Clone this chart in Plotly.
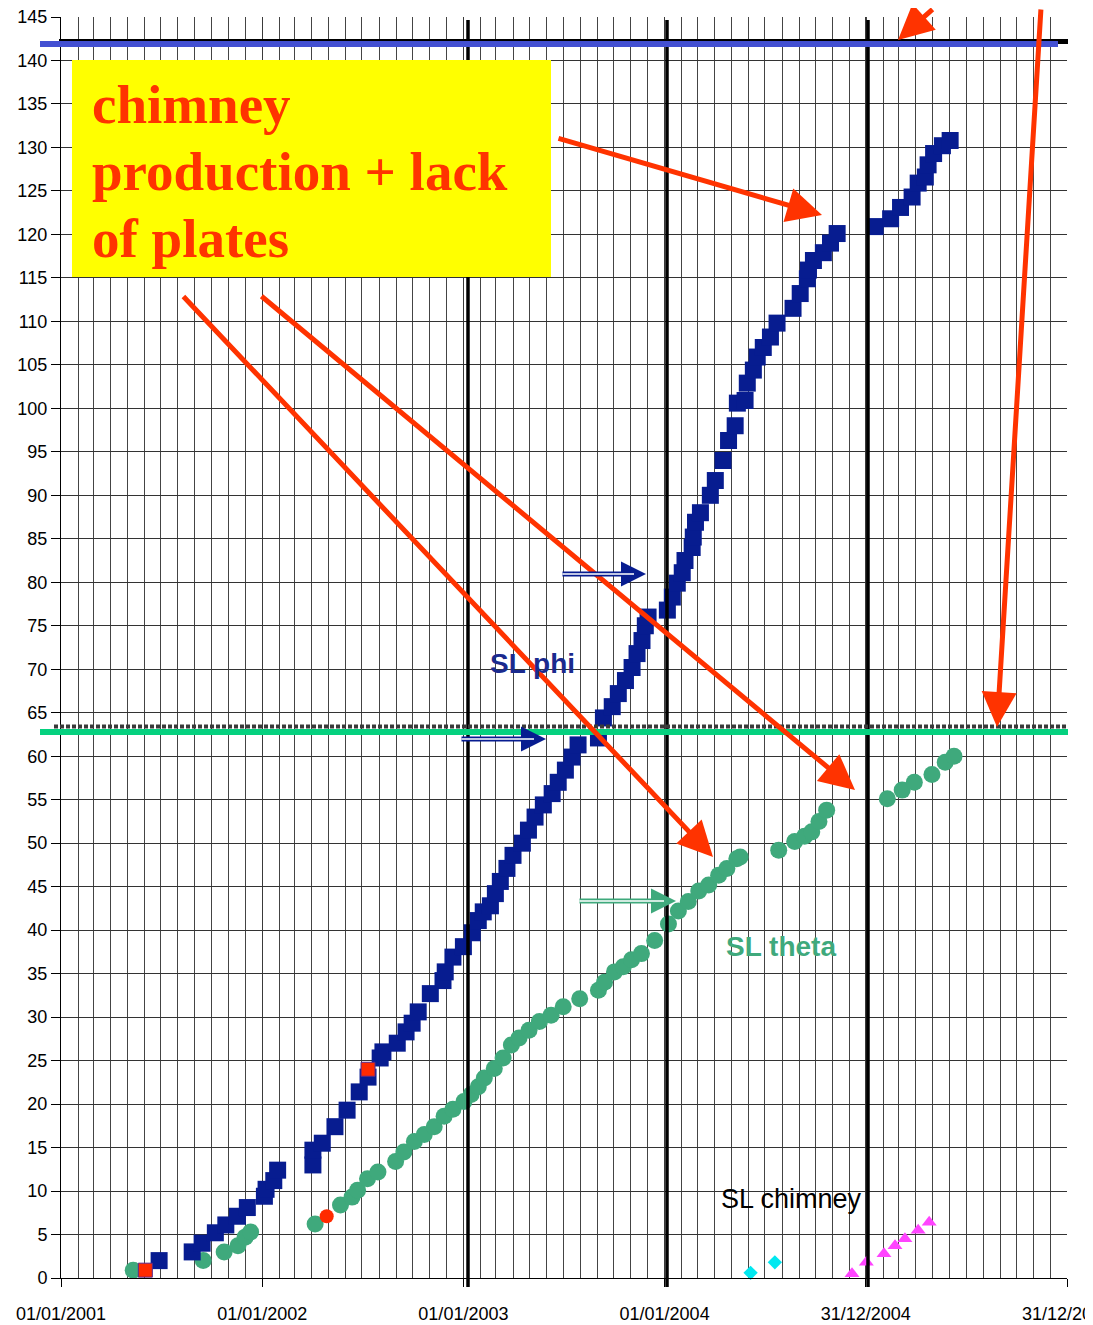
import plotly.graph_objects as go

# ---------------- data ----------------
phi_dates = [
    "2001-06-28", "2001-08-27", "2001-09-14", "2001-10-08", "2001-10-27", "2001-11-17", "2001-12-05",
    "2002-01-05", "2002-01-08", "2002-01-22", "2002-01-29",
    "2002-04-03", "2002-04-03", "2002-04-20", "2002-05-13", "2002-06-04", "2002-06-26", "2002-07-12",
    "2002-08-03", "2002-08-08", "2002-09-03", "2002-09-19", "2002-09-30", "2002-10-11", "2002-11-02",
    "2002-11-25", "2002-11-29", "2002-12-13", "2003-01-01", "2003-01-17", "2003-01-28", "2003-02-06",
    "2003-02-19", "2003-02-28", "2003-03-09", "2003-03-21", "2003-04-01", "2003-04-18", "2003-04-29",
    "2003-05-11", "2003-05-26", "2003-06-11", "2003-06-22", "2003-07-05", "2003-07-17", "2003-07-28",
    "2003-09-03", "2003-09-12", "2003-09-28", "2003-10-09", "2003-10-22", "2003-11-03", "2003-11-12",
    "2003-11-21", "2003-11-27", "2003-12-02", "2004-01-06", "2004-01-15", "2004-01-24", "2004-02-02",
    "2004-02-07", "2004-02-20", "2004-02-22", "2004-02-26", "2004-03-06", "2004-03-24", "2004-04-02",
    "2004-04-16", "2004-04-26", "2004-05-08", "2004-05-12", "2004-05-26", "2004-05-30", "2004-06-10",
    "2004-06-17", "2004-06-28", "2004-07-11", "2004-07-23", "2004-08-21", "2004-09-03", "2004-09-16",
    "2004-09-18", "2004-09-27", "2004-10-15", "2004-10-28", "2004-11-09",
    "2005-01-17", "2005-02-14", "2005-03-04", "2005-03-25", "2005-04-05", "2005-04-18", "2005-04-23",
    "2005-05-03", "2005-05-19", "2005-06-02",
]
phi_vals = [
    2.0, 3.0, 4.0, 5.2, 6.1, 7.1, 8.1,
    9.4, 10.2, 11.2, 12.4,
    13.0, 14.7, 15.5, 17.4, 19.3, 21.4, 23.1,
    25.3, 26.0, 27.0, 28.3, 29.3, 30.6, 32.7,
    34.2, 35.2, 36.9, 38.1, 39.7, 41.1, 42.1,
    42.8, 44.2, 45.6, 47.1, 48.6, 50.0, 51.5,
    53.0, 54.4, 55.7, 57.0, 58.4, 59.9, 61.3,
    62.1, 64.4, 65.7, 67.2, 68.7, 70.2, 71.8,
    73.3, 75.0, 76.0, 76.8, 78.3, 79.9, 81.1,
    82.5, 84.0, 85.2, 86.9, 88.0, 90.0, 91.7,
    94.0, 96.3, 98.0, 100.6, 100.9, 102.9, 104.4,
    105.9, 107.0, 108.2, 109.8, 111.5, 113.2, 114.9,
    115.9, 117.0, 117.9, 119.0, 120.1,
    120.9, 121.8, 123.1, 124.3, 125.9, 126.6, 128.0,
    129.3, 130.2, 130.8,
]

theta_dates = [
    "2001-05-12", "2001-09-16", "2001-10-24", "2001-11-18", "2001-12-01", "2001-12-11",
    "2002-04-07", "2002-05-23", "2002-06-13", "2002-06-23", "2002-07-11", "2002-07-30",
    "2002-08-31", "2002-09-15", "2002-10-04", "2002-10-22", "2002-11-09", "2002-11-27",
    "2002-12-13", "2003-01-02", "2003-01-15", "2003-01-28", "2003-02-08", "2003-02-26",
    "2003-03-14", "2003-03-29", "2003-04-12", "2003-04-30", "2003-05-19", "2003-06-09",
    "2003-07-01", "2003-07-31", "2003-09-03", "2003-09-14", "2003-10-02", "2003-10-18",
    "2003-11-02", "2003-11-20", "2003-12-14", "2004-01-08", "2004-01-26", "2004-02-13",
    "2004-03-03", "2004-03-21", "2004-04-08", "2004-04-23", "2004-05-11", "2004-05-17",
    "2004-07-26", "2004-08-24", "2004-09-11", "2004-09-24", "2004-10-07", "2004-10-21",
    "2005-02-08", "2005-03-07", "2005-03-29", "2005-04-30", "2005-05-24", "2005-06-09",
]
theta_vals = [
    0.9, 2.0, 3.0, 3.7, 4.7, 5.3,
    6.2, 8.4, 9.3, 10.1, 11.4, 12.2,
    13.4, 14.5, 15.7, 16.5, 17.4, 18.6,
    19.4, 20.3, 21.1, 22.0, 23.0, 24.1,
    25.3, 26.8, 27.6, 28.5, 29.5, 30.2,
    31.2, 32.1, 33.1, 34.0, 35.2, 35.8,
    36.6, 37.3, 38.8, 40.7, 42.2, 43.3,
    44.5, 45.2, 46.3, 47.1, 48.2, 48.4,
    49.2, 50.2, 50.8, 51.3, 52.5, 53.8,
    55.1, 56.1, 57.0, 57.9, 59.3, 60.0,
]

red_sq_dates = ["2001-06-03", "2002-07-12"]
red_sq_vals = [0.9, 24.0]
red_dot_dates = ["2002-04-28"]
red_dot_vals = [7.1]

cyan_dates = ["2004-06-05", "2004-07-19"]
cyan_vals = [0.6, 1.8]

chimney_dates = ["2004-12-06", "2005-01-01", "2005-02-02", "2005-02-22", "2005-03-12", "2005-04-05", "2005-04-25"]
chimney_vals = [0.5, 1.8, 2.8, 3.7, 4.5, 5.5, 6.4]

tick_dates = ["2001-01-01", "2002-01-01", "2003-01-01", "2004-01-01", "2004-12-31", "2005-12-31"]
tick_text = ["01/01/2001", "01/01/2002", "01/01/2003", "01/01/2004", "31/12/2004", "31/12/2005"]

# ---------------- styles ----------------
NAVY = "#071C90"
GREEN = "#3FA97C"
RED = "#FF3300"
OFF = 8                      # page body margin of the browser
W, H = 1093 - OFF, 1325 - OFF
# plot area in screen (reference) pixels
SL, SR, ST, SB = 61, 1067, 17, 1278
L, R, T, B = SL - OFF, SR - OFF, ST - OFF, SB - OFF


def px(x):
    return (x - SL) / (SR - SL)


def py(y):
    return (SB - y) / (SB - ST)


fig = go.Figure()
fig.add_trace(go.Scatter(x=theta_dates, y=theta_vals, mode="markers", cliponaxis=False,
                         marker=dict(symbol="circle", size=17, color=GREEN)))
fig.add_trace(go.Scatter(x=phi_dates, y=phi_vals, mode="markers", cliponaxis=False,
                         marker=dict(symbol="square", size=17, color=NAVY)))
fig.add_trace(go.Scatter(x=red_sq_dates, y=red_sq_vals, mode="markers", cliponaxis=False,
                         marker=dict(symbol="square", size=14, color="#FF2A00",
                                     line=dict(color="#5a2a8a", width=1))))
fig.add_trace(go.Scatter(x=red_dot_dates, y=red_dot_vals, mode="markers", cliponaxis=False,
                         marker=dict(symbol="circle", size=14, color="#FF2A00")))
fig.add_trace(go.Scatter(x=cyan_dates, y=cyan_vals, mode="markers", cliponaxis=False,
                         marker=dict(symbol="diamond", size=11, color="#00E8F0")))
fig.add_trace(go.Scatter(x=chimney_dates, y=chimney_vals, mode="markers", cliponaxis=False,
                         marker=dict(symbol="triangle-up", size=13, color="#FF44FF")))

shapes = []
# thick vertical marker lines
for xv in (468, 667, 868):
    shapes.append(dict(type="line", xref="paper", yref="paper", x0=px(xv), x1=px(xv),
                       y0=py(20), y1=py(1287), line=dict(color="black", width=3.5), layer="above"))
# top horizontal lines
shapes.append(dict(type="line", xref="paper", yref="paper", x0=px(59), x1=px(1068),
                   y0=py(41.5), y1=py(41.5), line=dict(color="black", width=5), layer="above"))
shapes.append(dict(type="line", xref="paper", yref="paper", x0=px(40), x1=px(1058),
                   y0=py(44), y1=py(44), line=dict(color="#4350D2", width=6), layer="above"))
# dotted line and green line around 63
shapes.append(dict(type="line", xref="paper", yref="paper", x0=px(54), x1=px(1068),
                   y0=py(726.5), y1=py(726.5), line=dict(color="#3a3a3a", width=4, dash="4px,2px"),
                   layer="above"))
shapes.append(dict(type="line", xref="paper", yref="paper", x0=px(40), x1=px(1068),
                   y0=py(732), y1=py(732), line=dict(color="#05D17F", width=6), layer="above"))
# yellow box
shapes.append(dict(type="rect", xref="paper", yref="paper", x0=px(72), x1=px(551),
                   y0=py(277), y1=py(60), fillcolor="#FFFF00", line=dict(width=0), layer="above"))
# tiny dashes at right edge
for yv in (55, 640, 745):
    shapes.append(dict(type="line", xref="paper", yref="paper", x0=px(1087), x1=px(1093),
                       y0=py(yv), y1=py(yv), line=dict(color="black", width=1), layer="above"))

annotations = []
# yellow box text
for txt, yc in (("chimney", 105), ("production + lack", 171), ("of plates", 238)):
    annotations.append(dict(text=txt, xref="paper", yref="paper", x=px(90), y=py(yc),
                            xanchor="left", yanchor="middle", showarrow=False,
                            font=dict(family="Liberation Serif", size=55, color=RED, weight="bold")))


def arrow(tail, head, color, width, head_style=2, size=1.5):
    return dict(text="", xref="paper", yref="paper", x=px(head[0]), y=py(head[1]),
                ax=tail[0] - head[0], ay=tail[1] - head[1], axref="pixel", ayref="pixel",
                showarrow=True, arrowhead=head_style, arrowsize=size, arrowwidth=width,
                arrowcolor=color, standoff=0)


# red arrows
annotations.append(arrow((557, 138), (822, 215), RED, 5, size=1.4))
annotations.append(arrow((182, 295), (713, 857), RED, 5, size=1.4))
annotations.append(arrow((260, 295), (855, 790), RED, 5, size=1.4))
annotations.append(arrow((1041, -2), (997, 727), RED, 5, size=1.4))
annotations.append(arrow((934, -2), (898, 40), RED, 5, size=1.4))

# hollow small arrows
for tail, head, col in (((561, 574), (646, 574), NAVY), ((460, 739), (546, 739), NAVY),
                        ((578, 901), (676, 901), GREEN)):
    annotations.append(arrow(tail, head, col, 5, head_style=2, size=1.0))
    annotations.append(arrow(tail, (head[0] - 12, head[1]), "white", 1.5, head_style=0, size=1.0))

# series labels
annotations.append(dict(text="<b>SL phi</b>", xref="paper", yref="paper", x=px(532), y=py(663),
                        xanchor="center", yanchor="middle", showarrow=False,
                        font=dict(family="Liberation Sans", size=28, color="#1A2A8E")))
annotations.append(dict(text="<b>SL theta</b>", xref="paper", yref="paper", x=px(781), y=py(946),
                        xanchor="center", yanchor="middle", showarrow=False,
                        font=dict(family="Liberation Sans", size=28, color=GREEN)))
annotations.append(dict(text="SL chimney", xref="paper", yref="paper", x=px(791), y=py(1199),
                        xanchor="center", yanchor="middle", showarrow=False,
                        font=dict(family="Liberation Sans", size=27, color="black")))

fig.update_layout(
    width=W, height=H,
    margin=dict(l=L, r=W - R, t=T, b=H - B, pad=0, autoexpand=False),
    paper_bgcolor="white", plot_bgcolor="white",
    showlegend=False,
    font=dict(family="Liberation Sans", color="black"),
    shapes=shapes, annotations=annotations,
    xaxis=dict(
        type="date", range=["2001-01-01", "2005-12-31"],
        tickmode="array", tickvals=tick_dates, ticktext=tick_text,
        showgrid=True, gridcolor="#3a3a3a", gridwidth=1,
        minor=dict(dtick="M1", tick0="2001-01-01", showgrid=True, gridcolor="#444444", gridwidth=1, ticks=""),
        ticks="outside", ticklen=8, tickcolor="black", tickwidth=1,
        showline=True, linecolor="black", linewidth=1, zeroline=False,
        tickfont=dict(size=18, color="black"), ticklabelstandoff=11,
        ticklabeloverflow="allow", automargin=False,
    ),
    yaxis=dict(
        range=[0, 145], tick0=0, dtick=5,
        showgrid=True, gridcolor="#333333", gridwidth=1,
        ticks="outside", ticklen=9, tickcolor="black", tickwidth=1,
        showline=True, linecolor="black", linewidth=1, zeroline=False,
        tickfont=dict(size=18, color="black"), ticklabeloverflow="allow", automargin=False,
    ),
)

fig.write_html("out.html")
